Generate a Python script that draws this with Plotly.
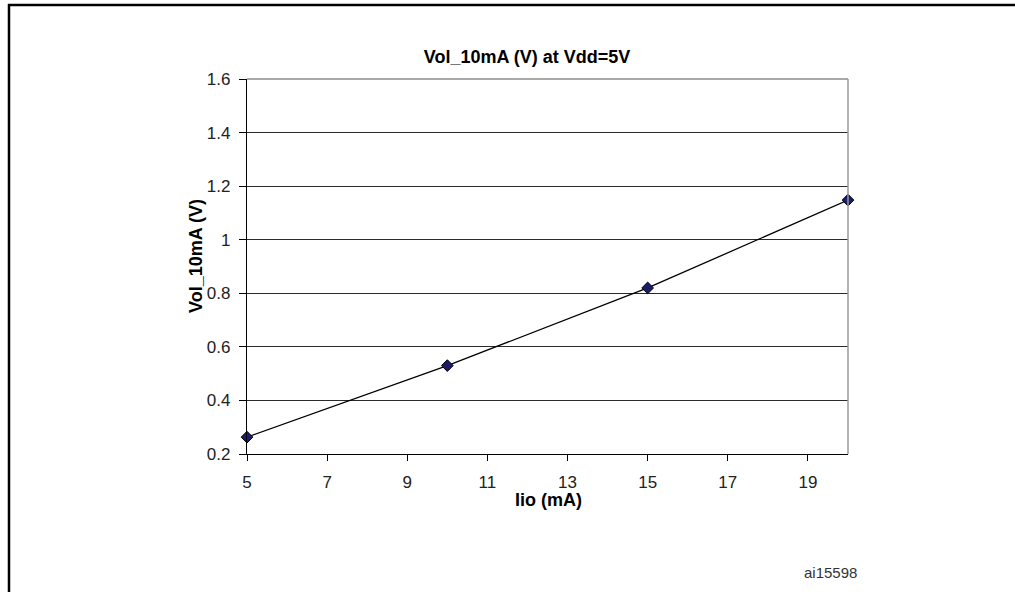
import plotly.graph_objects as go

iio_ma = [5, 10, 15, 20]
vol_v = [0.263, 0.53, 0.82, 1.148]
x_ticks = [5, 7, 9, 11, 13, 15, 17, 19]
y_ticks = [0.2, 0.4, 0.6, 0.8, 1.0, 1.2, 1.4, 1.6]
y_tick_text = ["0.2", "0.4", "0.6", "0.8", "1", "1.2", "1.4", "1.6"]

FONT = "Liberation Sans, Arial, sans-serif"

fig = go.Figure()
fig.add_trace(go.Scatter(
    x=iio_ma,
    y=vol_v,
    mode="lines+markers",
    line=dict(color="black", width=1.3),
    marker=dict(symbol="diamond", size=9, color="#1c1c6b",
                line=dict(color="black", width=1)),
    cliponaxis=False,
    showlegend=False,
))

# plot area in page pixels
L, R, T, B = 247, 848, 79, 454
W, H = 1015, 592
def px_x(p):
    return (p - L) / (R - L)
def px_y(p):
    return (B - p) / (B - T)

shapes = [
    # grey top and right edge of the plot area
    dict(type="line", xref="paper", yref="paper", x0=0, x1=1, y0=1, y1=1,
         line=dict(color="#8c8c8c", width=1.5)),
    dict(type="line", xref="paper", yref="paper", x0=1, x1=1, y0=0, y1=1,
         line=dict(color="#9a9a9a", width=1.5)),
    # outer figure frame (top and left)
    dict(type="line", xref="paper", yref="paper", x0=px_x(8), x1=px_x(1016),
         y0=px_y(5), y1=px_y(5), line=dict(color="black", width=2.5)),
    dict(type="line", xref="paper", yref="paper", x0=px_x(9), x1=px_x(9),
         y0=px_y(4), y1=px_y(593), line=dict(color="black", width=2.5)),
]

fig.update_layout(
    width=W,
    height=H,
    margin=dict(l=L, r=W - R, t=T, b=H - B),
    paper_bgcolor="white",
    plot_bgcolor="white",
    font=dict(family=FONT, size=17, color="#222"),
    title=dict(text="<b>Vol_10mA (V) at Vdd=5V</b>", x=527 / W,
               xanchor="center", y=1 - 57 / H, yanchor="middle",
               font=dict(size=18, color="black")),
    xaxis=dict(range=[5, 20], tickvals=x_ticks, ticks="outside", ticklen=6,
               tickcolor="black", showline=True, linecolor="black", linewidth=1.3,
               showgrid=False, zeroline=False, ticklabelstandoff=6,
               tickfont=dict(size=17, color="#222")),
    yaxis=dict(range=[0.2, 1.6], tickvals=y_ticks, ticktext=y_tick_text,
               ticks="outside", ticklen=7, tickcolor="black", showline=True,
               linecolor="black", linewidth=1.3, showgrid=True, gridcolor="#2a2a2a",
               gridwidth=1, zeroline=False, ticklabelstandoff=5,
               tickfont=dict(size=17, color="#222")),
    shapes=shapes,
    annotations=[
        dict(text="<b>Iio (mA)</b>", xref="paper", yref="paper", x=px_x(548),
             y=px_y(500), xanchor="center", yanchor="middle", showarrow=False,
             font=dict(size=18, color="black")),
        dict(text="<b>Vol_10mA (V)</b>", xref="paper", yref="paper", x=px_x(196),
             y=px_y(256), xanchor="center", yanchor="middle", showarrow=False,
             textangle=-90, font=dict(size=18, color="black")),
        dict(text="ai15598", xref="paper", yref="paper", x=px_x(830),
             y=px_y(572), xanchor="center", yanchor="middle", showarrow=False,
             font=dict(size=15, color="#333")),
    ],
)

# drop the browser's default 8px body margin so the figure sits at the page corner
fig.write_html("out.html", config={"displayModeBar": False},
               post_script="document.body.style.margin='0';")
